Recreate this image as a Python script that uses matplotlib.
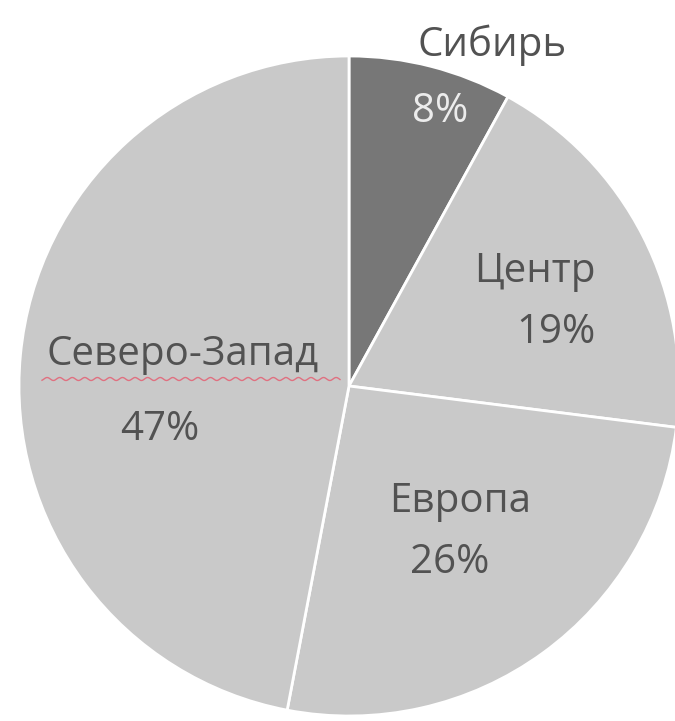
import matplotlib
matplotlib.use("Agg")
import matplotlib.pyplot as plt
import numpy as np

labels = ["Сибирь", "Центр", "Европа", "Северо-Запад"]
values = [8, 19, 26, 47]
colors = ["#777777", "#c9c9c9", "#c9c9c9", "#c9c9c9"]
pct_labels = ["8%", "19%", "26%", "47%"]

W, H = 675, 721
fig = plt.figure(figsize=(W / 100, H / 100), dpi=100)
ax = fig.add_axes([0, 0, 1, 1])

cx, cy, r = 349, H - 386, 330
ax.pie(values, colors=colors, startangle=90, counterclock=False,
       center=(cx, cy), radius=r, frame=True,
       wedgeprops=dict(edgecolor="white", linewidth=2))
ax.set_xlim(0, W)
ax.set_ylim(0, H)
ax.set_aspect("equal")
ax.axis("off")

fam = ["Open Sans", "DejaVu Sans"]
tc = "#525252"
fs = 29

def T(x, y, s, color=tc):
    ax.text(x, H - y, s, ha="center", va="center", fontsize=fs,
            color=color, family=fam)

T(492, 45, labels[0])
T(440, 112, pct_labels[0], color="#ececec")
T(535, 272, labels[1])
T(556, 333, pct_labels[1])
T(460, 502, labels[2])
T(450, 563, pct_labels[2])
T(183, 355, labels[3])
T(160, 430, pct_labels[3])

# spell-check squiggle under "Северо-Запад"
xs = np.linspace(42, 340, 300)
ax.plot(xs, H - (379 + 1.5 * np.sin(xs / 2.0)), color="#e07080", lw=1)

fig.savefig("out.png", dpi=100, facecolor="white")
